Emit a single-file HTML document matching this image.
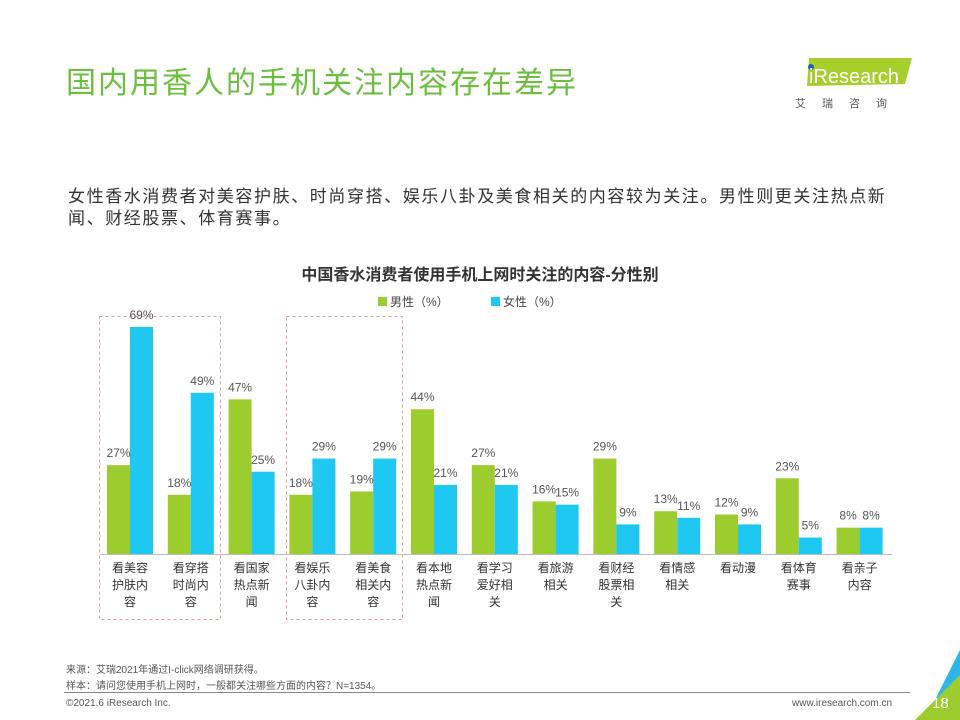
<!DOCTYPE html>
<html><head><meta charset="utf-8">
<style>
body{margin:0;width:960px;height:720px;overflow:hidden;background:#fff;font-family:"Liberation Sans","Noto Sans CJK SC",sans-serif;position:relative}
.abs{position:absolute}
</style></head><body>
<div class="abs" style="left:66px;top:58px;font-size:30px;color:#6cbf3e;letter-spacing:2px">国内用香人的手机关注内容存在差异</div>
<div class="abs" style="left:795px;top:52px;width:120px;height:50px">
  <svg width="120" height="50"><polygon points="14,6 117,6 110,32 12,34" fill="#a7cf2c"/><circle cx="16" cy="15" r="3" fill="#2a5db0"/>
  <text x="14" y="31" font-size="20" fill="#fff" font-family="Liberation Sans">iResearch</text></svg>
</div>
<div class="abs" style="left:795px;top:95px;font-size:11px;color:#555;letter-spacing:16px">艾瑞咨询</div>
<div class="abs" style="left:68px;top:186px;width:900px;white-space:nowrap;font-size:17px;letter-spacing:1.6px;line-height:22px;color:#333">女性香水消费者对美容护肤、时尚穿搭、娱乐八卦及美食相关的内容较为关注。男性则更关注热点新<br>闻、财经股票、体育赛事。</div>
<div class="abs" style="left:0;width:960px;top:261px;text-align:center;font-size:16px;font-weight:bold;color:#333">中国香水消费者使用手机上网时关注的内容-分性别</div>
<svg class="abs" style="left:0;top:0" width="960" height="720" id="chart">
  <rect x="378" y="297" width="9" height="9" fill="#9ccc2e"/>
  <text x="390" y="306" font-size="12" fill="#444">男性（%）</text>
  <rect x="491" y="297" width="9" height="9" fill="#1ec8f0"/>
  <text x="503" y="306" font-size="12" fill="#444">女性（%）</text>
  <rect x="99.5" y="316.5" width="121" height="303" fill="none" stroke="#e09a9a" stroke-dasharray="3,3"/>
  <rect x="286.5" y="316.5" width="116" height="303" fill="none" stroke="#e09a9a" stroke-dasharray="3,3"/>
  <line x1="100" y1="554.5" x2="892" y2="554.5" stroke="#bbb"/>
</svg>
<div class="abs" style="left:66px;top:661px;font-size:10px;color:#555">来源：艾瑞2021年通过I-click网络调研获得。</div>
<div class="abs" style="left:66px;top:677px;font-size:10px;color:#555">样本：请问您使用手机上网时，一般都关注哪些方面的内容？N=1354。</div>
<div class="abs" style="left:64px;top:692px;width:846px;height:1px;background:#888"></div>
<div class="abs" style="left:66px;top:698px;font-size:10px;color:#555">©2021.6 iResearch Inc.</div>
<div class="abs" style="left:792px;top:698px;font-size:10px;color:#555">www.iresearch.com.cn</div>
<svg class="abs" style="left:915px;top:650px" width="45" height="70">
<polygon points="45,0 45,70 10,70" fill="#2fb6e8"/><polygon points="45,25 45,70 0,70" fill="#9ccc2e"/></svg>
<div class="abs" style="left:932px;top:695px;font-size:15px;color:#fff">18</div>
<script>
const categories=["看美容护肤内容","看穿搭时尚内容","看国家热点新闻","看娱乐八卦内容","看美食相关内容","看本地热点新闻","看学习爱好相关","看旅游相关","看财经股票相关","看情感相关","看动漫","看体育赛事","看亲子内容"];
const labelLines=[["看美容","护肤内","容"],["看穿搭","时尚内","容"],["看国家","热点新","闻"],["看娱乐","八卦内","容"],["看美食","相关内","容"],["看本地","热点新","闻"],["看学习","爱好相","关"],["看旅游","相关"],["看财经","股票相","关"],["看情感","相关"],["看动漫"],["看体育","赛事"],["看亲子","内容"]];
const maleValues=[27,18,47,18,19,44,27,16,29,13,12,23,8];
const femaleValues=[69,49,25,29,29,21,21,15,9,11,9,5,8];
const svg=document.getElementById('chart');
const NS='http://www.w3.org/2000/svg';
const baseY=554, pxPer=3.29, bw=23;
function xc(i){return 130+i*60.8;}
function yv(v){return baseY-v*pxPer;}
function mk(tag,attrs,text){const e=document.createElementNS(NS,tag);for(const k in attrs)e.setAttribute(k,attrs[k]);if(text!=null)e.textContent=text;svg.appendChild(e);return e;}
categories.forEach((c,i)=>{
  const cx=xc(i);
  let r=mk('rect',{x:cx-bw,y:yv(maleValues[i]),width:bw,height:maleValues[i]*pxPer,fill:'#9ccc2e'});
  
  
  r=mk('rect',{x:cx,y:yv(femaleValues[i]),width:bw,height:femaleValues[i]*pxPer,fill:'#1ec8f0'});
  
  
  let t=mk('text',{x:cx-bw/2,y:yv(maleValues[i])-8,'font-size':12,fill:'#555','text-anchor':'middle'},maleValues[i]+'%');
  
  
  t=mk('text',{x:cx+bw/2,y:yv(femaleValues[i])-8,'font-size':12,fill:'#555','text-anchor':'middle'},femaleValues[i]+'%');
  
  
  labelLines[i].forEach((ln,j)=>{
    const l=mk('text',{x:cx,y:572+j*17,'font-size':12,fill:'#333','text-anchor':'middle'},ln);
    
    
  });
});
</script>
</body></html>
